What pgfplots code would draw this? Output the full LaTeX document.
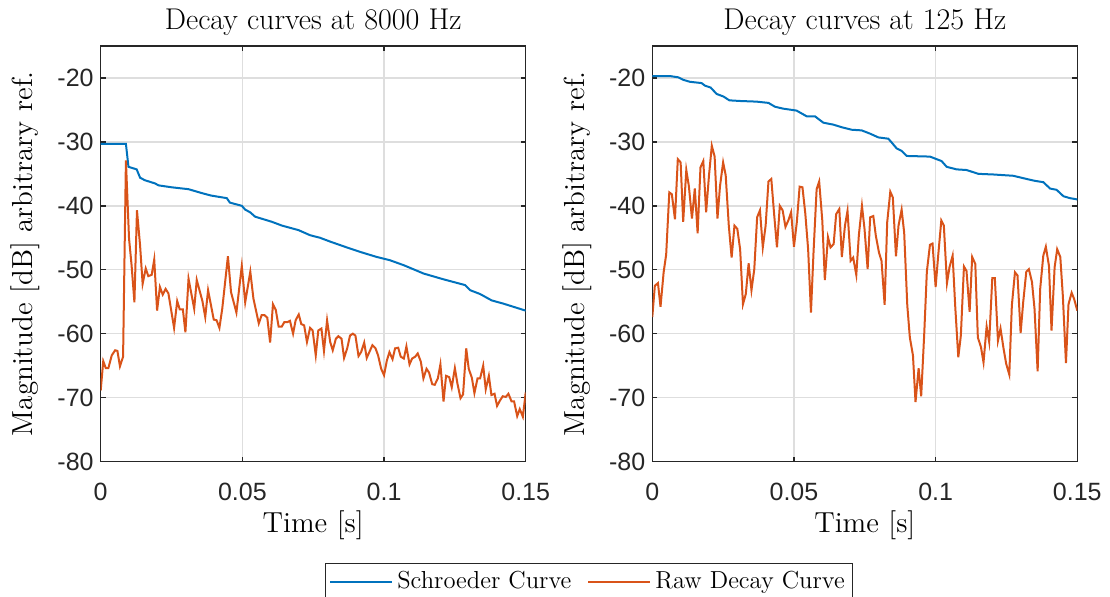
\documentclass[border=0pt]{standalone}
\usepackage{fontspec}
\usepackage{pgfplots}
\pgfplotsset{compat=1.18}
\newfontfamily\ticksans{Liberation Sans}
\definecolor{mblue}{rgb}{0,0.447,0.741}
\definecolor{morange}{rgb}{0.85,0.325,0.098}
\definecolor{axgray}{rgb}{0.15,0.15,0.15}
\definecolor{gridgray}{rgb}{0.87,0.87,0.87}
\pgfplotsset{
  decay/.style={
    scale only axis, width=212.5pt, height=207.75pt,
    xmin=0, xmax=0.15, ymin=-80, ymax=-15,
    xtick={0,0.05,0.1,0.15}, xticklabels={0,0.05,0.1,0.15},
    ytick={-80,-70,-60,-50,-40,-30,-20},
    yticklabels={-80,-70,-60,-50,-40,-30,-20},
    scaled x ticks=false,
    tick align=inside, tick pos=both, major tick length=2.5pt,
    grid=major,
    major grid style={gridgray, line width=0.75pt},
    axis line style={axgray, line width=0.7pt},
    every tick/.style={axgray, line width=0.7pt},
    tick label style={font=\ticksans\fontsize{12.5}{14}\selectfont, text=axgray},
    xticklabel style={yshift=-7pt},
    title style={font=\fontsize{15}{18}\selectfont, at={(0.5,1)}, anchor=south, yshift=-4.5pt},
    every axis y label/.style={at={(axis description cs:-0.177,0.5)}, rotate=90, anchor=center, font=\fontsize{14.5}{17}\selectfont},
    every axis x label/.style={at={(axis description cs:0.5,-0.153)}, anchor=center, font=\fontsize{14.5}{17}\selectfont},
    xlabel={Time [s]},
    ylabel={Magnitude [dB] arbitrary ref.},
    clip=true,
  }
}
\begin{document}
\begin{tikzpicture}
\useasboundingbox (-50.35pt,-67.25pt) rectangle (504.65pt,230.75pt);
\begin{axis}[decay, title={Decay curves at 8000 Hz},
  legend columns=2,
  legend style={at={(axis description cs:1.149,-0.2443)}, anchor=north,
    draw=axgray, line width=0.6pt, font=\fontsize{12.3}{14.5}\selectfont,
    inner xsep=2pt, inner ysep=2pt,
    /tikz/every even column/.append style={column sep=6pt}},
  legend image code/.code={\draw[#1] (0pt,0pt) -- (31pt,0pt);},
]
\addplot[mblue, line width=1pt] coordinates {
(0,-30.3) (0.0089,-30.3) (0.0098,-33.9) (0.0127,-34.3) (0.0139,-35.6) (0.0156,-36.0)
(0.0192,-36.5) (0.0204,-36.8) (0.025,-37.1) (0.031,-37.4) (0.0356,-38.0) (0.039,-38.4)
(0.0445,-38.8) (0.0456,-39.5) (0.0498,-40.0) (0.051,-40.6) (0.0527,-41.0) (0.0545,-41.7)
(0.0604,-42.5) (0.064,-43.1) (0.0698,-43.8) (0.0739,-44.6) (0.0774,-45.0) (0.081,-45.6)
(0.0868,-46.5) (0.0915,-47.2) (0.0974,-48.0) (0.102,-48.5) (0.107,-49.3) (0.114,-50.6)
(0.121,-51.5) (0.1286,-52.4) (0.1304,-53.2) (0.1339,-53.8) (0.138,-54.8) (0.1421,-55.3)
(0.15,-56.4)
};
\addlegendentry{Schroeder Curve}
\addplot[morange, line width=1pt] coordinates {
(0,-68.9) (0.0009,-64.3) (0.0018,-65.4) (0.0027,-65.4) (0.0039,-63.4) (0.0051,-62.6)
(0.0059,-62.7) (0.0068,-65.1) (0.0079,-63.6) (0.0089,-32.9) (0.0100,-45.1) (0.0109,-49.3)
(0.0119,-55.1) (0.0128,-40.7) (0.0139,-46.2) (0.0148,-52.2) (0.0159,-49.8) (0.0168,-51.0)
(0.0180,-50.8) (0.0189,-48.4) (0.0199,-56.4) (0.0209,-52.7) (0.0219,-53.9) (0.0229,-53.0)
(0.0239,-53.7) (0.0259,-59.1) (0.0270,-54.9) (0.0279,-56.2) (0.0290,-56.2) (0.0299,-59.8)
(0.0310,-51.4) (0.0330,-56.1) (0.0339,-51.6) (0.0359,-54.9) (0.0369,-57.4) (0.0379,-53.2)
(0.0399,-57.8) (0.0409,-57.9) (0.0419,-59.1) (0.0429,-56.1) (0.0449,-47.9) (0.0460,-53.5)
(0.0479,-56.7) (0.0498,-49.4) (0.0510,-55.1) (0.0528,-50.3) (0.0539,-54.5) (0.0558,-58.4)
(0.0568,-57.1) (0.0578,-57.1) (0.0588,-57.5) (0.0598,-61.4) (0.0608,-55.4) (0.0618,-56.3)
(0.0628,-58.9) (0.0639,-58.9) (0.0648,-58.2) (0.0659,-58.2) (0.0668,-58.0) (0.0679,-60.0)
(0.0688,-57.9) (0.0699,-57.0) (0.0708,-58.5) (0.0718,-58.7) (0.0728,-61.3) (0.0739,-59.1)
(0.0748,-59.5) (0.0759,-63.4) (0.0768,-59.5) (0.0779,-59.2) (0.0788,-62.7) (0.0799,-57.9)
(0.0810,-61.3) (0.0819,-62.6) (0.0830,-60.8) (0.0839,-60.4) (0.0850,-60.8) (0.0859,-63.8)
(0.0870,-62.3) (0.0880,-60.3) (0.0890,-60.0) (0.0899,-60.3) (0.0910,-63.5) (0.0919,-62.9)
(0.0930,-61.4) (0.0939,-63.8) (0.0950,-62.7) (0.0959,-61.8) (0.0970,-62.3) (0.0979,-63.4)
(0.0990,-65.5) (0.1000,-66.5) (0.1010,-64.2) (0.1019,-62.9) (0.1030,-64.0) (0.1039,-62.3)
(0.1050,-62.2) (0.1059,-63.6) (0.1070,-63.9) (0.1079,-62.0) (0.1090,-64.8) (0.1099,-63.9)
(0.1110,-63.6) (0.1119,-63.1) (0.1130,-64.4) (0.1139,-67.0) (0.1150,-65.5) (0.1159,-66.1)
(0.1170,-67.9) (0.1179,-68.0) (0.1190,-67.0) (0.1199,-64.8) (0.1210,-70.6) (0.1219,-66.6)
(0.1230,-66.8) (0.1239,-68.4) (0.1250,-65.4) (0.1259,-67.8) (0.1270,-70.1) (0.1279,-69.5)
(0.1290,-62.3) (0.1299,-65.5) (0.1310,-66.9) (0.1319,-69.3) (0.1330,-67.0) (0.1339,-67.0)
(0.1350,-65.0) (0.1359,-68.7) (0.1370,-66.6) (0.1379,-69.6) (0.1390,-69.4) (0.1399,-71.3)
(0.1410,-70.4) (0.1419,-69.8) (0.1430,-69.9) (0.1439,-69.4) (0.1450,-70.6) (0.1459,-70.6)
(0.1470,-72.9) (0.1479,-71.8) (0.1490,-73.0) (0.1500,-69.2)
};
\addlegendentry{Raw Decay Curve}
\end{axis}
\begin{axis}[decay, at={(275.8pt,0pt)}, title={Decay curves at 125 Hz}]
\addplot[mblue, line width=1pt] coordinates {
(0,-19.7) (0.0062,-19.7) (0.0092,-19.9) (0.011,-20.3) (0.0133,-20.6) (0.0174,-20.8)
(0.0186,-21.2) (0.0206,-21.5) (0.0227,-22.5) (0.0251,-22.9) (0.0272,-23.5) (0.0309,-23.6)
(0.0368,-23.7) (0.041,-23.9) (0.0433,-24.5) (0.0462,-24.8) (0.0509,-25.1) (0.0533,-25.7)
(0.0545,-26.0) (0.0574,-26.0) (0.0604,-27.0) (0.0639,-27.3) (0.0668,-27.7) (0.0704,-28.1)
(0.0739,-28.2) (0.0768,-28.7) (0.0798,-29.3) (0.0833,-29.5) (0.0845,-30.1) (0.0862,-31.0)
(0.088,-31.4) (0.0898,-32.2) (0.098,-32.3) (0.1021,-33.0) (0.1039,-33.9) (0.1074,-34.3)
(0.1109,-34.4) (0.1151,-35.0) (0.1204,-35.1) (0.1274,-35.3) (0.1321,-35.8) (0.1351,-36.1)
(0.138,-36.3) (0.1404,-37.3) (0.1427,-37.5) (0.1451,-38.5) (0.1474,-38.8) (0.15,-39.0)
};
\addplot[morange, line width=1pt] coordinates {
(0,-57.4) (0.0009,-52.5) (0.0020,-52.1) (0.0029,-55.8) (0.0040,-50.4) (0.0049,-47.6)
(0.0060,-37.9) (0.0069,-38.2) (0.0080,-42.1) (0.0090,-32.7) (0.0100,-33.2) (0.0109,-42.5)
(0.0120,-34.4) (0.0129,-36.9) (0.0140,-42.0) (0.0150,-37.3) (0.0160,-44.3) (0.0170,-34.0)
(0.0180,-33.0) (0.0190,-41.0) (0.0200,-35.3) (0.0210,-30.6) (0.0220,-32.3) (0.0230,-42.0)
(0.0239,-36.9) (0.0250,-33.2) (0.0259,-35.2) (0.0270,-43.1) (0.0280,-48.1) (0.0290,-43.1)
(0.0300,-43.6) (0.0310,-46.8) (0.0320,-55.4) (0.0330,-53.8) (0.0340,-49.0) (0.0350,-53.2)
(0.0360,-49.9) (0.0370,-41.8) (0.0380,-40.7) (0.0390,-46.5) (0.0400,-43.1) (0.0410,-36.2)
(0.0420,-35.8) (0.0430,-41.3) (0.0440,-46.5) (0.0450,-40.0) (0.0460,-40.7) (0.0470,-43.3)
(0.0480,-42.3) (0.0490,-41.0) (0.0500,-46.4) (0.0510,-42.6) (0.0520,-37.0) (0.0530,-37.1)
(0.0540,-41.2) (0.0550,-46.8) (0.0560,-56.7) (0.0569,-47.3) (0.0580,-37.4) (0.0589,-36.2)
(0.0600,-42.3) (0.0609,-51.6) (0.0620,-44.9) (0.0629,-46.5) (0.0640,-46.0) (0.0649,-41.3)
(0.0660,-40.5) (0.0669,-48.0) (0.0680,-43.1) (0.0689,-40.8) (0.0700,-48.6) (0.0709,-48.1)
(0.0720,-50.8) (0.0729,-44.6) (0.0740,-40.0) (0.0749,-43.6) (0.0760,-49.9) (0.0769,-41.8)
(0.0780,-41.6) (0.0789,-44.7) (0.0800,-47.3) (0.0809,-48.6) (0.0820,-55.5) (0.0829,-42.6)
(0.0840,-37.8) (0.0849,-38.7) (0.0860,-47.9) (0.0869,-43.1) (0.0880,-40.6) (0.0889,-44.2)
(0.0900,-55.6) (0.0909,-60.6) (0.0920,-63.4) (0.0929,-70.7) (0.0940,-65.4) (0.0949,-69.8)
(0.0960,-59.8) (0.0969,-50.3) (0.0980,-46.1) (0.0989,-45.9) (0.1000,-52.7) (0.1009,-47.8)
(0.1020,-42.3) (0.1029,-43.1) (0.1040,-52.1) (0.1049,-49.6) (0.1060,-47.8) (0.1069,-55.6)
(0.1080,-63.7) (0.1089,-60.3) (0.1100,-49.5) (0.1109,-50.2) (0.1120,-56.6) (0.1129,-48.0)
(0.1140,-49.1) (0.1149,-60.6) (0.1160,-62.1) (0.1169,-64.5) (0.1180,-58.9) (0.1189,-61.3)
(0.1200,-51.3) (0.1209,-51.3) (0.1220,-61.1) (0.1229,-59.2) (0.1240,-62.4) (0.1249,-64.7)
(0.1260,-66.4) (0.1269,-55.6) (0.1280,-50.4) (0.1289,-50.9) (0.1300,-59.9) (0.1309,-55.1)
(0.1320,-50.3) (0.1329,-49.9) (0.1340,-51.9) (0.1349,-56.1) (0.1360,-65.9) (0.1369,-53.0)
(0.1380,-47.8) (0.1389,-46.4) (0.1400,-49.4) (0.1409,-59.5) (0.1420,-49.6) (0.1429,-46.8)
(0.1440,-48.0) (0.1449,-54.1) (0.1460,-64.6) (0.1469,-55.4) (0.1480,-53.6) (0.1489,-54.6)
(0.1500,-56.4)
};
\end{axis}
\end{tikzpicture}
\end{document}
